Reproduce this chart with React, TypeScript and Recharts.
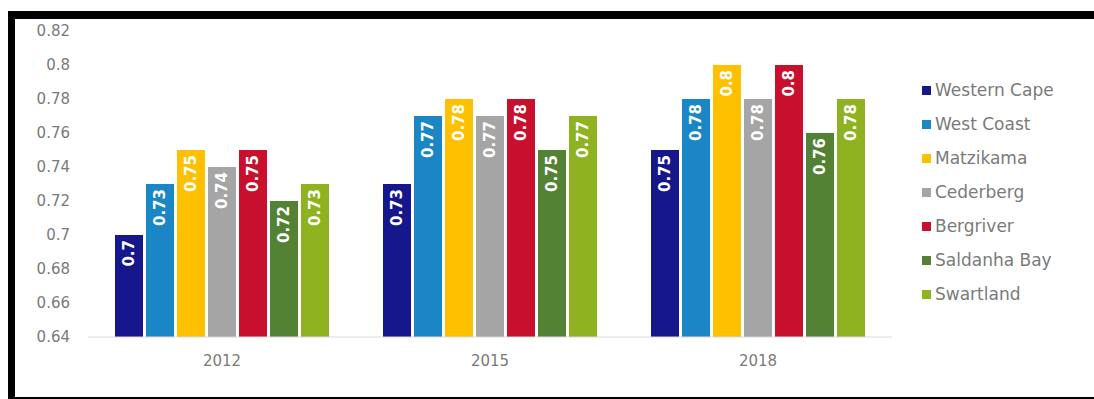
import React from 'react';
import { BarChart, Bar, XAxis, YAxis, Legend, LabelList } from 'recharts';

const categories = ['2012', '2015', '2018'];
const seriesNames = ['Western Cape', 'West Coast', 'Matzikama', 'Cederberg', 'Bergriver', 'Saldanha Bay', 'Swartland'];
const seriesColors = ['#16178c', '#1b86c6', '#ffc000', '#a5a5a5', '#c8102e', '#548235', '#8fb320'];

const westernCape = [0.7, 0.73, 0.75];
const westCoast = [0.73, 0.77, 0.78];
const matzikama = [0.75, 0.78, 0.8];
const cederberg = [0.74, 0.77, 0.78];
const bergriver = [0.75, 0.78, 0.8];
const saldanhaBay = [0.72, 0.75, 0.76];
const swartland = [0.73, 0.77, 0.78];

const seriesValues = [westernCape, westCoast, matzikama, cederberg, bergriver, saldanhaBay, swartland];
const yTicks = [0.64, 0.66, 0.68, 0.7, 0.72, 0.74, 0.76, 0.78, 0.8, 0.82];

const data = categories.map((c, i) => {
  const row: Record<string, any> = { category: c };
  seriesNames.forEach((n, s) => {
    row[n] = seriesValues[s][i];
  });
  return row;
});

const fmt = (v: any) => String(+Number(v).toFixed(2));

const renderLabel = (props: any) => {
  const { x, y, width, value } = props;
  const cx = Number(x) + Number(width) / 2;
  const ty = Number(y) + 5;
  return (
    <text
      x={cx}
      y={ty}
      transform={`rotate(-90 ${cx} ${ty})`}
      textAnchor="end"
      dominantBaseline="central"
      fill="#ffffff"
      fontFamily="DejaVu Sans"
      fontWeight="bold"
      fontSize={15}
    >
      {fmt(value)}
    </text>
  );
};

const renderLegend = () => {
  return (
    <div style={{ fontFamily: 'DejaVu Sans', fontSize: 17, color: '#7a7a7a' }}>
      {seriesNames.map((n, i) => (
        <div key={n} style={{ height: 34, display: 'flex', alignItems: 'center', whiteSpace: 'nowrap' }}>
          <span style={{ display: 'inline-block', width: 9, height: 9, background: seriesColors[i], marginRight: 4 }} />
          <span>{n}</span>
        </div>
      ))}
    </div>
  );
};

export default function App() {
  return (
    <div style={{ position: 'absolute', left: 0, top: 0, width: 1094, height: 399, overflow: 'hidden', background: '#fff' }}>
      <div style={{ position: 'absolute', left: 0, top: 0 }}>
        <BarChart
          width={1094}
          height={399}
          data={data}
          margin={{ top: 31, right: 202, bottom: 32, left: 0 }}
          barSize={28}
          barGap={3}
        >
          <XAxis
            dataKey="category"
            height={30}
            tickLine={false}
            axisLine={{ stroke: '#d9d9d9' }}
            tickMargin={12}
            tick={{ fill: '#7a7a7a', fontSize: 15, fontFamily: 'DejaVu Sans' }}
          />
          <YAxis
            width={88}
            domain={[0.64, 0.82]}
            ticks={yTicks}
            interval={0}
            tickLine={false}
            axisLine={false}
            tickMargin={12}
            tickFormatter={fmt}
            tick={{ fill: '#7a7a7a', fontSize: 15, fontFamily: 'DejaVu Sans' }}
          />
          <Legend
            layout="vertical"
            align="center"
            verticalAlign="middle"
            wrapperStyle={{ left: 922, top: 73, width: 170 }}
            content={renderLegend}
          />
          {seriesNames.map((n, s) => (
            <Bar key={n} dataKey={n} name={n} fill={seriesColors[s]} isAnimationActive={false}>
              <LabelList dataKey={n} content={renderLabel} />
            </Bar>
          ))}
        </BarChart>
      </div>
      <div
        style={{
          position: 'absolute',
          left: 8,
          top: 11,
          width: 1200,
          height: 378,
          borderTop: '8px solid #000',
          borderLeft: '7px solid #000',
          borderBottom: '8px solid #000',
          pointerEvents: 'none',
        }}
      />
    </div>
  );
}
